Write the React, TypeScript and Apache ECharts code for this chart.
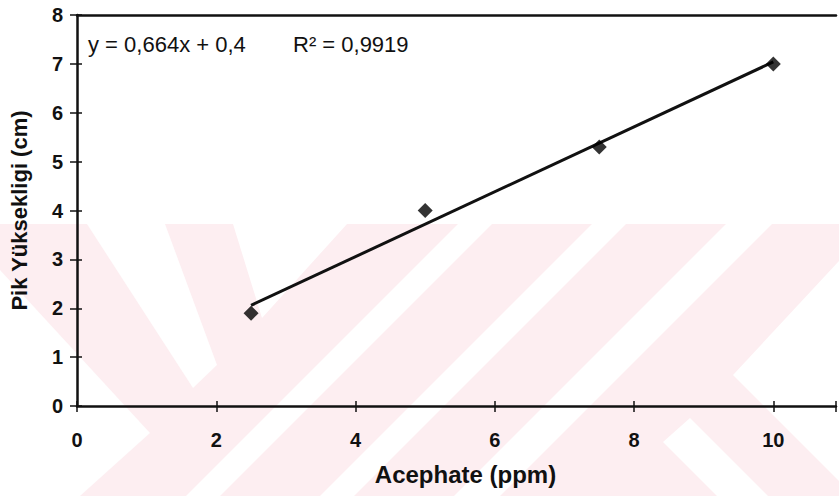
import React, { useEffect, useRef } from "react";
import * as echarts from "echarts";

const concentrations = [2.5, 5, 7.5, 10];
const peakHeights = [1.9, 4.0, 5.3, 7.0];
const trendX = [2.5, 10];
const trendY = [2.06, 7.04];
const xTicks = [0, 2, 4, 6, 8, 10];
const equationText = "y = 0,664x + 0,4";
const r2Text = "R² = 0,9919";
const xTitle = "Acephate (ppm)";
const yTitle = "Pik Yüksekligi (cm)";

const PINK = "#fdeef1";
const whiteShapes: number[][][] = [
  [[87, 224], [165, 224], [217, 365], [193, 388]],
  [[233, 224], [347, 224], [262, 318]],
  [[458, 224], [492, 224], [220, 496], [186, 496]],
  [[592, 224], [626, 224], [354, 496], [320, 496]],
  [[726, 224], [772, 224], [500, 496], [454, 496]],
  [[839, 261], [733, 375], [839, 481]],
  [[690, 418], [768, 496], [717, 496], [663, 442]],
  [[0, 270], [150, 433], [80, 496], [0, 496]],
];

export default function App() {
  const ref = useRef<HTMLDivElement>(null);
  useEffect(() => {
    if (!ref.current) return;
    const chart = echarts.init(ref.current, null, { renderer: "svg" });
    const font = "Arial, 'Liberation Sans', Helvetica, sans-serif";
    const graphics: any[] = [
      { type: "rect", z: -20, silent: true, shape: { x: 0, y: 224, width: 839, height: 272 }, style: { fill: PINK } },
      ...whiteShapes.map((pts) => ({ type: "polygon", z: -19, silent: true, shape: { points: pts }, style: { fill: "#ffffff" } })),
      { type: "text", left: 88, top: 33, z: 10, style: { text: equationText, font: `22px ${font}`, fill: "#111" } },
      { type: "text", left: 293, top: 33, z: 10, style: { text: r2Text, font: `22px ${font}`, fill: "#111" } },
    ];
    const xMax = 10.9;
    chart.setOption({
      animation: false,
      backgroundColor: "#ffffff",
      grid: { left: 75, top: 15, bottom: 90, right: 0, show: false },
      graphic: graphics,
      xAxis: [
        {
          type: "value",
          min: 0,
          max: xMax,
          interval: 2,
          position: "bottom",
          name: xTitle,
          nameLocation: "middle",
          nameGap: 56,
          nameTextStyle: { fontFamily: font, fontWeight: "bold", fontSize: 24, color: "#111", padding: [0, 0, 0, 18] },
          axisLine: { show: true, lineStyle: { color: "#111", width: 2.5 } },
          axisTick: { show: true, inside: false, length: 6, lineStyle: { color: "#111", width: 1.5 } },
          axisLabel: {
            margin: 24,
            fontFamily: font,
            fontWeight: "bold",
            fontSize: 20,
            color: "#111",
            formatter: (v: number) => (xTicks.includes(v) ? String(v) : ""),
          },
          splitLine: { show: false },
        },
        {
          type: "value",
          min: 0,
          max: xMax,
          interval: 2,
          position: "bottom",
          axisLine: { show: false },
          axisTick: { show: true, inside: true, length: 5, lineStyle: { color: "#111", width: 1.5 } },
          axisLabel: { show: false },
          splitLine: { show: false },
        },
        {
          type: "value",
          min: 0,
          max: xMax,
          interval: 2,
          position: "top",
          axisLine: { show: true, lineStyle: { color: "#111", width: 2.5 } },
          axisTick: { show: false },
          axisLabel: { show: false },
          splitLine: { show: false },
        },
      ],
      yAxis: [
        {
          type: "value",
          min: 0,
          max: 8,
          interval: 1,
          position: "left",
          name: yTitle,
          nameLocation: "middle",
          nameGap: 47,
          nameTextStyle: { fontFamily: font, fontWeight: "bold", fontSize: 22, color: "#111" },
          axisLine: { show: true, lineStyle: { color: "#111", width: 2.5 } },
          axisTick: { show: true, inside: false, length: 7, lineStyle: { color: "#111", width: 1.5 } },
          axisLabel: { margin: 14, fontFamily: font, fontWeight: "bold", fontSize: 20, color: "#111" },
          splitLine: { show: false },
        },
        {
          type: "value",
          min: 0,
          max: 8,
          interval: 1,
          position: "left",
          axisLine: { show: false },
          axisTick: { show: true, inside: true, length: 5, lineStyle: { color: "#111", width: 1.5 } },
          axisLabel: { show: false },
          splitLine: { show: false },
        },
      ],
      series: [
        {
          type: "line",
          xAxisIndex: 0,
          yAxisIndex: 0,
          data: trendX.map((x, i) => [x, trendY[i]]),
          showSymbol: false,
          symbol: "none",
          lineStyle: { color: "#111", width: 3 },
          z: 3,
        },
        {
          type: "scatter",
          xAxisIndex: 0,
          yAxisIndex: 0,
          data: concentrations.map((x, i) => [x, peakHeights[i]]),
          symbol: "diamond",
          symbolSize: 15,
          itemStyle: { color: "#000" },
          z: 4,
        },
      ],
    });
    return () => chart.dispose();
  }, []);
  return (
    <div
      ref={ref}
      style={{ position: "fixed", left: 0, top: 0, width: 839, height: 496, background: "#fff" }}
    />
  );
}
